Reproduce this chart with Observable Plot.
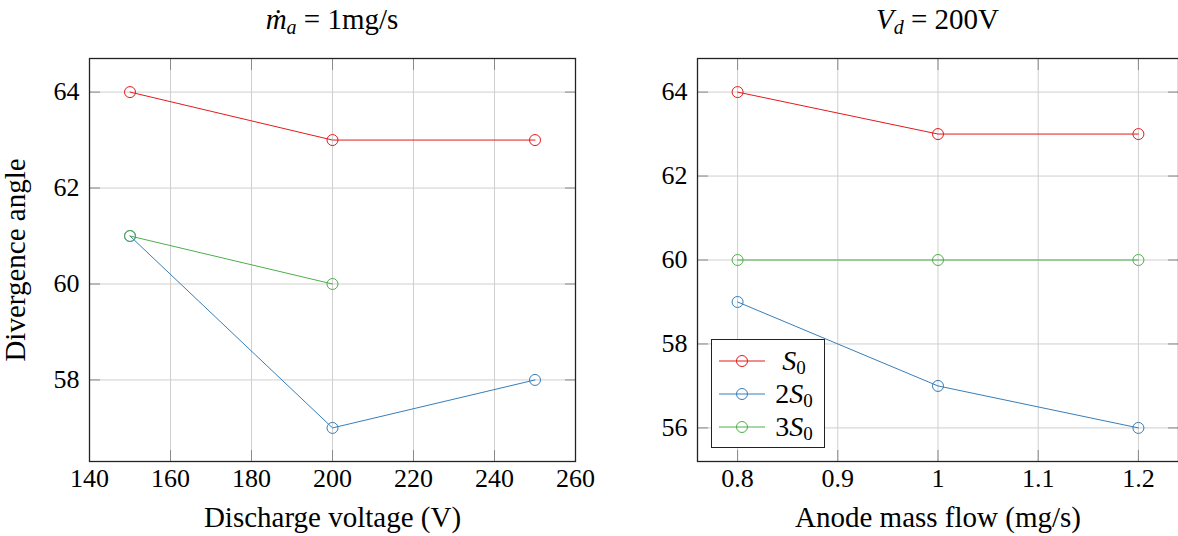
<!DOCTYPE html>
<html>
<head>
<meta charset="utf-8">
<script src="https://cdn.jsdelivr.net/npm/d3@7"></script>
<script src="https://cdn.jsdelivr.net/npm/@observablehq/plot@0.6"></script>
<style>
  html, body { margin: 0; padding: 0; background: #fff; }
  #wrap { position: relative; width: 1178px; height: 536px; overflow: hidden; font-family: "Liberation Serif", serif; color: #000; }
  #wrap svg, #wrap svg text { font-family: "Liberation Serif", serif !important; }
  .panel { position: absolute; top: 0; }
  .title { position: absolute; top: 0px; font-size: 29px; text-align: center; white-space: nowrap; line-height: 38px; }
  .title sub { font-size: 20px; vertical-align: -5px; line-height: 0; }
  #legend { position: absolute; left: 711px; top: 339px; width: 112px; height: 107px; border: 1.3px solid #222; background: #fff; }
  .entry { position: absolute; left: 0; width: 112px; height: 30px; }
  .entry svg { position: absolute; left: 7px; top: 0; }
  .entry span { position: absolute; left: 58px; width: 48px; top: 0; text-align: center; font-size: 28px; line-height: 30px; white-space: nowrap; }
  .entry sub { font-size: 19px; vertical-align: -4px; line-height: 0; font-style: normal; }
</style>
</head>
<body>
<div id="wrap">
  <div class="panel" id="left" style="left:0;width:600px;"></div>
  <div class="panel" id="right" style="left:600px;width:578px;"></div>
  <div class="title" style="left:89px;width:486px;"><i>ṁ</i><sub><i>a</i></sub> = 1mg/s</div>
  <div class="title" style="left:697px;width:481px;"><i>V</i><sub><i>d</i></sub> = 200V</div>
  <div id="legend"></div>
</div>
<script>
// ---- data ----
const seriesNames = ["S0", "2S0", "3S0"];
const seriesColors = ["#e41a1c", "#377eb8", "#4daf4a"];

const voltage = [150, 200, 250];
const voltS0 = [64, 63, 63];
const volt2S0 = [61, 57, 58];
const volt3S0 = [61, 60];

const massFlow = [0.8, 1.0, 1.2];
const flowS0 = [64, 63, 63];
const flow2S0 = [59, 57, 56];
const flow3S0 = [60, 60, 60];

const leftXTicks = [140, 160, 180, 200, 220, 240, 260];
const leftYTicks = [58, 60, 62, 64];
const rightXTicks = [0.8, 0.9, 1.0, 1.1, 1.2];
const rightYTicks = [56, 58, 60, 62, 64];

// ---- build tables ----
function rows(xs, ys, name) { return ys.map((y, i) => ({x: xs[i], y, s: name})); }
const leftData = [
  ...rows(voltage, voltS0, "S0"),
  ...rows(voltage, volt2S0, "2S0"),
  ...rows(voltage, volt3S0, "3S0")
];
const rightData = [
  ...rows(massFlow, flowS0, "S0"),
  ...rows(massFlow, flow2S0, "2S0"),
  ...rows(massFlow, flow3S0, "3S0")
];

const font = {fontFamily: "Liberation Serif", fontSize: "26px", background: "transparent", overflow: "visible"};
const gridColor = "#cfcfcf";
const tickColor = "#8a8a8a";
const TS = 11;

function panel({data, xDomain, yDomain, xTicks, yTicks, xFmt, xLabel, yLabel, width, mL, mR}) {
  return Plot.plot({
    width, height: 536,
    marginLeft: mL, marginRight: mR, marginTop: 58, marginBottom: 75,
    x: {domain: xDomain},
    y: {domain: yDomain},
    color: {domain: seriesNames, range: seriesColors},
    style: font,
    marks: [
      Plot.gridX(xTicks, {stroke: gridColor, strokeOpacity: 1, strokeWidth: 1}),
      Plot.gridY(yTicks, {stroke: gridColor, strokeOpacity: 1, strokeWidth: 1}),
      Plot.axisX(xTicks, {anchor: "bottom", tickSize: TS, dy: -TS, text: null, label: null, stroke: tickColor}),
      Plot.axisX(xTicks, {anchor: "top", tickSize: TS, dy: TS, text: null, label: null, stroke: tickColor}),
      Plot.axisY(yTicks, {anchor: "left", tickSize: TS, dx: TS, text: null, label: null, stroke: tickColor}),
      Plot.axisY(yTicks, {anchor: "right", tickSize: TS, dx: -TS, text: null, label: null, stroke: tickColor}),
      Plot.axisX(xTicks, {anchor: "bottom", tickSize: 0, tickPadding: 7, tickFormat: xFmt, fontSize: 26, label: null}),
      Plot.axisY(yTicks, {anchor: "left", tickSize: 0, tickPadding: 10, fontSize: 26, label: null}),
      Plot.axisX([], {anchor: "bottom", tickSize: 0, text: null, fontSize: 29,
        label: xLabel, labelAnchor: "center", labelArrow: "none", labelOffset: 65}),
      ...(yLabel ? [Plot.axisY([], {anchor: "left", tickSize: 0, text: null, fontSize: 29,
        label: yLabel, labelAnchor: "center", labelArrow: "none", labelOffset: 85})] : []),
      Plot.line(data, {x: "x", y: "y", z: "s", stroke: "s", strokeWidth: 1}),
      Plot.dot(data, {x: "x", y: "y", stroke: "s", r: 5.5, strokeWidth: 1, fill: "none"}),
      Plot.frame({stroke: "#222", strokeWidth: 1.3})
    ]
  });
}

document.getElementById("left").appendChild(panel({
  data: leftData, xDomain: [140, 260], yDomain: [56.3, 64.7],
  xTicks: leftXTicks, yTicks: leftYTicks, xFmt: d => String(d),
  xLabel: "Discharge voltage (V)", yLabel: "Divergence angle", width: 600, mL: 89, mR: 25
}));
document.getElementById("right").appendChild(panel({
  data: rightData, xDomain: [0.76, 1.24], yDomain: [55.2, 64.8],
  xTicks: rightXTicks, yTicks: rightYTicks, xFmt: d => String(Math.round(d * 10) / 10),
  xLabel: "Anode mass flow (mg/s)", yLabel: null, width: 578, mL: 97, mR: 0
}));

// legend
const legendLabels = ["<i>S</i><sub>0</sub>", "2<i>S</i><sub>0</sub>", "3<i>S</i><sub>0</sub>"];
const legend = document.getElementById("legend");
seriesNames.forEach((n, i) => {
  const e = document.createElement("div");
  e.className = "entry";
  e.style.top = (6 + i * 33) + "px";
  e.innerHTML = `<svg width="46" height="30"><line x1="0" x2="46" y1="15" y2="15" stroke="${seriesColors[i]}" stroke-width="1"/><circle cx="23" cy="15" r="5.5" fill="none" stroke="${seriesColors[i]}" stroke-width="1"/></svg><span>${legendLabels[i]}</span>`;
  legend.appendChild(e);
});
</script>
</body>
</html>
